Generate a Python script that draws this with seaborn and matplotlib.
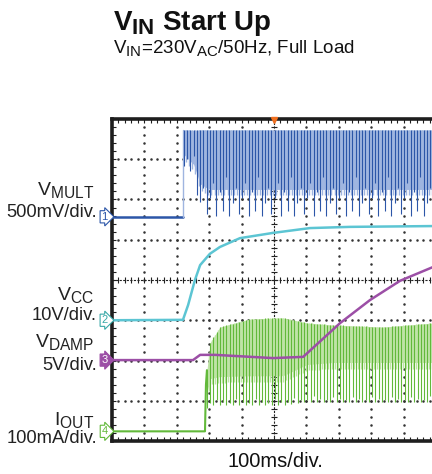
import numpy as np
import pandas as pd
import matplotlib
matplotlib.use("Agg")
from matplotlib import pyplot as plt
import matplotlib.transforms as mtransforms
import matplotlib._mathtext as mathtext_internal
import seaborn as sns

# all values in scope divisions: time 0..10 div (100 ms/div), level 0..8 div from bottom
ripple_period = 0.1  # 10 ms rectified-mains ripple

# ch1  V_MULT
mult_ground = 5.57
mult_start = 2.19
mult_t = [2.19, 2.35, 2.55, 2.70, 3.00, 5.00, 7.50, 9.90]
mult_top = [7.73, 7.73, 7.72, 7.73, 7.73, 7.73, 7.73, 7.73]
mult_mid = [7.15, 7.00, 6.85, 6.40, 6.25, 6.25, 6.25, 6.25]
mult_bot = [6.86, 6.70, 6.55, 5.62, 5.60, 5.60, 5.60, 5.60]
mult_depth = [1.0, 0.72, 0.95, 0.55, 1.0, 0.85, 0.68, 0.98, 0.8, 0.62]

# ch2  V_CC
vcc_t = [0.0, 2.19, 2.35, 2.56, 2.72, 3.02, 3.33, 3.95, 4.97, 6.11, 7.35, 9.90]
vcc_v = [3.00, 3.01, 3.38, 4.00, 4.37, 4.65, 4.82, 5.04, 5.17, 5.29, 5.32, 5.34]

# ch3  V_DAMP
damp_t = [0.0, 2.50, 2.72, 3.18, 4.97, 5.90, 7.04, 7.96, 8.89, 9.90]
damp_v = [2.01, 2.01, 2.14, 2.14, 2.06, 2.09, 2.93, 3.50, 3.98, 4.32]

# ch4  I_OUT
iout_ground = 0.24
iout_start = 2.87
iout_t = [2.93, 3.02, 3.33, 4.26, 5.28, 6.02, 6.82, 8.36, 9.90]
iout_top = [1.76, 2.43, 2.83, 3.03, 3.06, 2.93, 2.88, 2.83, 2.93]
iout_mid = [1.20, 1.55, 1.60, 1.62, 1.62, 1.90, 1.95, 1.95, 1.95]
iout_bot = [0.82, 0.89, 0.89, 0.89, 0.89, 0.97, 0.97, 0.97, 0.97]
iout_depth = [1.0, 0.97, 1.0, 0.93, 1.0, 0.96]

channel_names = [r"V$_{\mathrm{MULT}}$", r"V$_{\mathrm{CC}}$", r"V$_{\mathrm{DAMP}}$", r"I$_{\mathrm{OUT}}$"]
channel_scales = ["500mV/div.", "10V/div.", "5V/div.", "100mA/div."]

BLUE, BLUE_L = "#2c56a8", "#9fb5e0"
CYAN = "#5cc5d3"
PURPLE = "#9c4fa6"
GREEN, GREEN_L = "#62b93a", "#bfe4a6"

sns.set_style("white")
plt.rcParams['font.family'] = ['Liberation Sans', 'DejaVu Sans']
plt.rcParams['mathtext.fontset'] = 'custom'
plt.rcParams['mathtext.rm'] = 'Liberation Sans'
plt.rcParams['mathtext.it'] = 'Liberation Sans'
plt.rcParams['mathtext.bf'] = 'Liberation Sans:bold'
# larger subscripts, like the datasheet typesetting
mathtext_internal.SHRINK_FACTOR = 0.8

W, H = 432, 474
fig = plt.figure(figsize=(W / 100, H / 100), dpi=100)
ax = fig.add_axes([112 / W, 33 / H, 324 / W, 322 / H])
ax.set_xlim(0, 10)
ax.set_ylim(0, 8)

# graticule
for i in range(1, 10):
    if i == 5:
        continue
    ys = np.arange(0.2, 8.0, 0.2)
    ax.plot(np.full_like(ys, i), ys, ls='none', marker='s', ms=0.75, color='#333333', zorder=1)
for j in range(1, 8):
    if j == 4:
        continue
    xs = np.arange(0.2, 10.0, 0.2)
    ax.plot(xs, np.full_like(xs, j), ls='none', marker='s', ms=0.75, color='#333333', zorder=1)
ax.plot([0, 10], [4, 4], color='#222222', lw=0.8, ls=(0, (2, 1.2)), zorder=1)
ax.plot([5, 5], [0, 8], color='#222222', lw=0.8, ls=(0, (2, 1.2)), zorder=1)
ax.plot(np.arange(0.2, 10, 0.2), np.full(49, 4.0), ls='none', marker='|', ms=4, mew=0.8, color='#222222', zorder=1)
ax.plot(np.full(39, 5.0), np.arange(0.2, 8, 0.2), ls='none', marker='_', ms=4, mew=0.8, color='#222222', zorder=1)

def ripple(t_pts, top_pts, mid_pts, bot_pts, depth, start, dark, light):
    t = np.arange(start, 9.95, ripple_period)
    top = np.interp(t, t_pts, top_pts)
    mid = np.interp(t, t_pts, mid_pts)
    bot = np.interp(t, t_pts, bot_pts)
    ax.fill_between(t, mid, top, color=light, lw=0, zorder=2)
    half = t + ripple_period / 2
    ax.vlines(half[:-1], np.interp(half[:-1], t_pts, mid_pts) - 0.15,
              np.interp(half[:-1], t_pts, top_pts), color=light, lw=1.0, zorder=2)
    d = np.resize(np.array(depth), len(t))
    ax.vlines(t, top - d * (top - bot), top, color=dark, lw=0.8, zorder=3)

# ch1
sns.lineplot(x=[0, mult_start], y=[mult_ground, mult_ground], ax=ax, color=BLUE, lw=1.8, zorder=3)
ax.plot([mult_start, mult_start], [mult_ground, mult_top[0]], color=BLUE_L, lw=1.0, zorder=3)
ripple(mult_t, mult_top, mult_mid, mult_bot, mult_depth, mult_start + 0.03, BLUE, BLUE_L)

# ch2
sns.lineplot(x=vcc_t, y=vcc_v, ax=ax, color=CYAN, lw=1.8, sort=False, estimator=None, zorder=3)

# ch4
sns.lineplot(x=[0, iout_start, iout_start + 0.03, iout_start + 0.06],
             y=[iout_ground, iout_ground, 1.4, iout_top[0]], ax=ax, color=GREEN, lw=1.5,
             sort=False, estimator=None, zorder=3)
ripple(iout_t, iout_top, iout_mid, iout_bot, iout_depth, iout_t[0], GREEN, GREEN_L)

# ch3 on top
sns.lineplot(x=damp_t, y=damp_v, ax=ax, color=PURPLE, lw=1.8, sort=False, estimator=None, zorder=4)

# frame
for side in ['left', 'top', 'bottom', 'right']:
    ax.spines[side].set_linewidth(2.6)
    ax.spines[side].set_color('#1e1e1e')
ax.set_xticks(np.arange(0, 10.01, 0.2))
ax.set_yticks(np.arange(0, 8.01, 0.2))
ax.tick_params(direction='in', length=3, width=0.8, color='#1e1e1e',
               top=True, bottom=True, left=True, right=False,
               labelbottom=False, labelleft=False)
ax.plot([5], [7.97], marker='v', ms=5, color='#f07020', clip_on=False, zorder=6)

# channel markers
trans = mtransforms.blended_transform_factory(ax.transAxes, ax.transData)
markers = [("1", mult_ground, BLUE, 'white', BLUE),
           ("2", vcc_v[0], '#3aa9a8', 'white', '#3aa9a8'),
           ("3", damp_v[0], PURPLE, PURPLE, 'white'),
           ("4", iout_ground, GREEN, 'white', GREEN)]
for lab, yv, ec, fc, tc in markers:
    ax.text(-0.014, yv, lab, transform=trans, ha='right', va='center', fontsize=8, color=tc,
            bbox=dict(boxstyle='rarrow,pad=0.1', fc=fc, ec=ec, lw=0.8), clip_on=False, zorder=6)

# left labels
name_y = [195, 300, 347, 425]
scale_y = [217, 320, 370, 443]
for name, scale, ny, sy in zip(channel_names, channel_scales, name_y, scale_y):
    fig.text(94 / W, 1 - ny / H, name, ha='right', va='baseline', fontsize=14, color='#222222')
    fig.text(97 / W, 1 - sy / H, scale, ha='right', va='baseline', fontsize=13.2, color='#222222')

fig.text(113 / W, 1 - 30 / H, r"$\mathbf{V_{IN}}$ Start Up", fontsize=20, fontweight='bold',
         va='baseline', color='#111111')
fig.text(113 / W, 1 - 53 / H, r"V$_{\mathrm{IN}}$=230V$_{\mathrm{AC}}$/50Hz, Full Load", fontsize=13.5,
         va='baseline', color='#111111')
fig.text(275 / W, 1 - 467 / H, "100ms/div.", fontsize=14.5, ha='center', va='baseline', color='#111111')

fig.savefig("out.png", dpi=100)
